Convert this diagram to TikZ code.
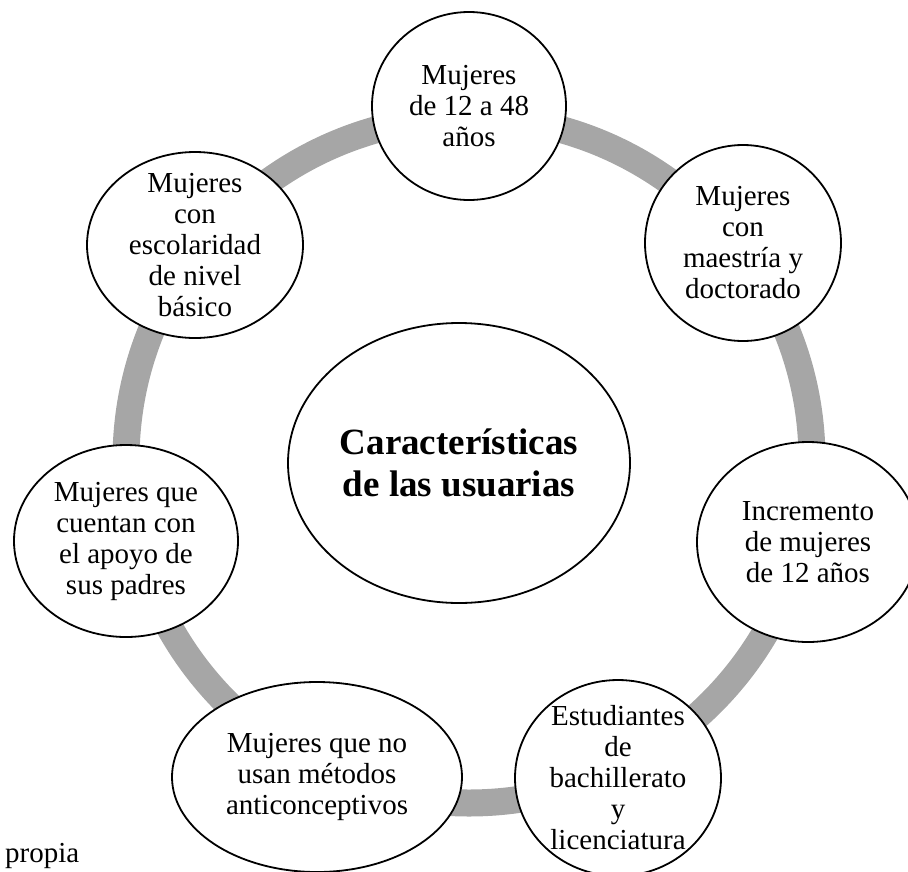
\documentclass[tikz,border=0pt]{standalone}
\usepackage{fontspec}
\setmainfont{Liberation Serif}
\usetikzlibrary{shapes.geometric}
\definecolor{ringgray}{HTML}{A6A6A6}
\begin{document}
\begin{tikzpicture}[x=1pt,y=-1pt,
  bubble/.style={draw=black, line width=1.8pt, fill=white, ellipse, inner sep=0pt},
  txt/.style={align=center, font=\fontsize{29}{31}\selectfont, inner sep=0pt},
  ringline/.style={draw=ringgray, line width=27pt}]
\useasboundingbox (0,0) rectangle (908,871);
% ring
\coordinate (rc) at (469,460);
\draw[ringline] (rc) circle[radius=343pt];
% central
\node[bubble, minimum width=342pt, minimum height=280pt] (c) at (459,463) {};
\node[txt, font=\bfseries\fontsize{37}{42}\selectfont] (ct) at (c) {Características\\de las usuarias};
% satellites
\node[bubble, minimum width=194pt, minimum height=188pt] (n1) at (469,106) {};
\node[txt] (t1) at (n1) {Mujeres\\de 12 a 48\\años};
\node[bubble, minimum width=196pt, minimum height=196pt] (n2) at (743,243) {};
\node[txt] (t2) at (n2) {Mujeres\\con\\maestría y\\doctorado};
\node[bubble, minimum width=222pt, minimum height=200pt] (n3) at (808,542) {};
\node[txt] (t3) at (n3) {Incremento\\de mujeres\\de 12 años};
\node[bubble, minimum width=206pt, minimum height=196pt] (n4) at (618,778) {};
\node[txt] (t4) at (n4) {Estudiantes\\de\\bachillerato\\y\\licenciatura};
\node[bubble, minimum width=290pt, minimum height=190pt] (n5) at (317,777) {};
\node[txt] (t5) at (n5) {Mujeres que no\\usan métodos\\anticonceptivos};
\node[bubble, minimum width=224pt, minimum height=192pt] (n6) at (126,541) {};
\node[txt] (t6) at (n6) {Mujeres que\\cuentan con\\el apoyo de\\sus padres};
\node[bubble, minimum width=216pt, minimum height=186pt] (n7) at (195,245) {};
\node[txt] (t7) at (n7) {Mujeres\\con\\escolaridad\\de nivel\\básico};
% source
\node[txt, anchor=base west] (src) at (5,862) {propia};
\end{tikzpicture}
\end{document}
